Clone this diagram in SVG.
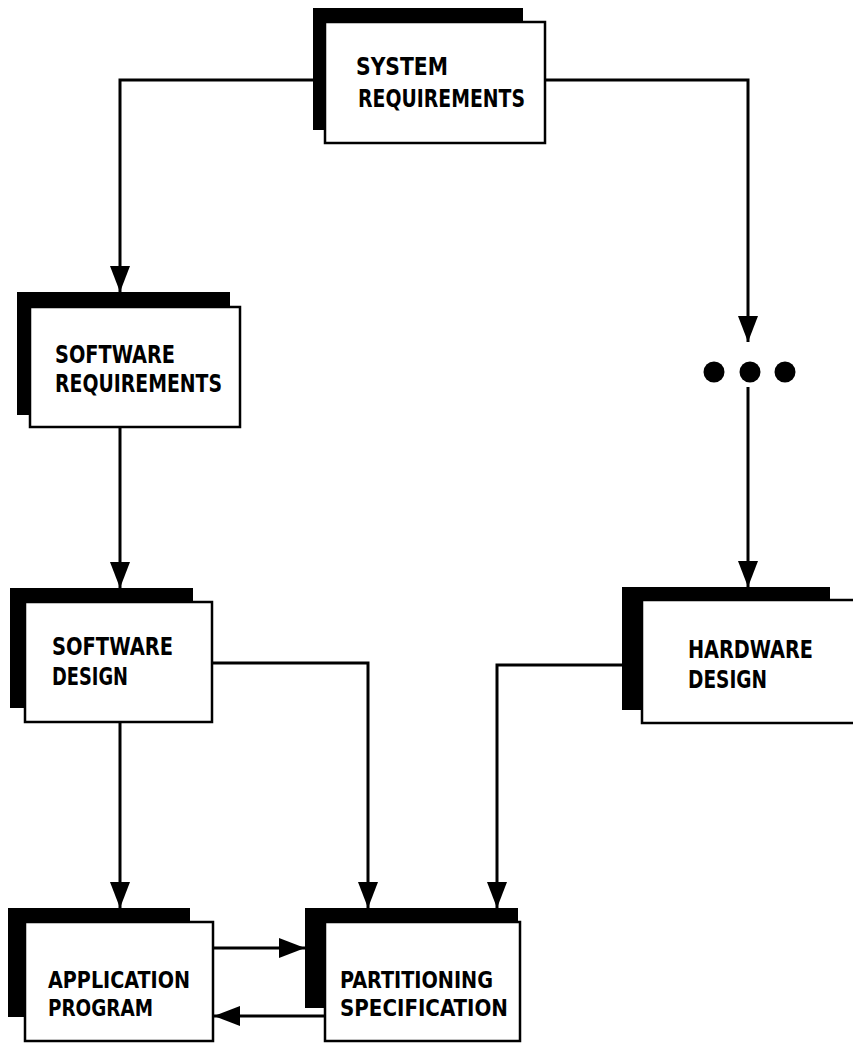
<svg xmlns="http://www.w3.org/2000/svg" width="853" height="1043" viewBox="0 0 853 1043">
  <style>
    .shadow { fill: #000; }
    .box { fill: #fff; stroke: #000; stroke-width: 2.5; }
    .label { font-family: "DejaVu Sans Condensed", "DejaVu Sans", sans-serif; font-size: 25px; font-weight: bold; fill: #000; }
    .tight { font-size: 23px; }
    .wire { fill: none; stroke: #000; stroke-width: 3; }
    .dot { fill: #000; }
  </style>
  <defs>
    <marker id="head" markerUnits="userSpaceOnUse" markerWidth="28" markerHeight="22" refX="26" refY="10" orient="auto">
      <path d="M0,0 L26,10 L0,20 Z" fill="#000"/>
    </marker>
  </defs>

  <rect width="853" height="1043" fill="#fff"/>

  <!-- connectors -->
  <g id="connectors">
    <path class="wire" d="M313,80 H120 V292" marker-end="url(#head)"/>
    <path class="wire" d="M545,80 H748 V342" marker-end="url(#head)"/>
    <path class="wire" d="M748,387 V587" marker-end="url(#head)"/>
    <path class="wire" d="M120,427 V588" marker-end="url(#head)"/>
    <path class="wire" d="M120,722 V908" marker-end="url(#head)"/>
    <path class="wire" d="M212,663 H368 V908" marker-end="url(#head)"/>
    <path class="wire" d="M622,665 H497 V908" marker-end="url(#head)"/>
    <path class="wire" d="M213,948 H305" marker-end="url(#head)"/>
    <path class="wire" d="M325,1016 H214" marker-end="url(#head)"/>
  </g>

  <!-- continuation marks -->
  <g id="ellipsis">
    <circle class="dot" cx="714" cy="372" r="10.5"/>
    <circle class="dot" cx="750" cy="372" r="10.5"/>
    <circle class="dot" cx="785" cy="372" r="10.5"/>
  </g>

  <g id="system-requirements">
    <rect class="shadow" x="313" y="8" width="210" height="122"/>
    <rect class="box" x="325" y="22" width="220" height="121"/>
    <text class="label" x="356" y="75" textLength="92" lengthAdjust="spacingAndGlyphs">SYSTEM</text>
    <text class="label" x="358" y="107" textLength="167" lengthAdjust="spacingAndGlyphs">REQUIREMENTS</text>
  </g>

  <g id="software-requirements">
    <rect class="shadow" x="17" y="292" width="213" height="123"/>
    <rect class="box" x="30" y="307" width="210" height="120"/>
    <text class="label" x="55" y="363" textLength="120" lengthAdjust="spacingAndGlyphs">SOFTWARE</text>
    <text class="label" x="55" y="392" textLength="167" lengthAdjust="spacingAndGlyphs">REQUIREMENTS</text>
  </g>

  <g id="software-design">
    <rect class="shadow" x="10" y="588" width="183" height="120"/>
    <rect class="box" x="25" y="602" width="187" height="120"/>
    <text class="label" x="52" y="655" textLength="121" lengthAdjust="spacingAndGlyphs">SOFTWARE</text>
    <text class="label" x="52" y="685" textLength="76" lengthAdjust="spacingAndGlyphs">DESIGN</text>
  </g>

  <g id="hardware-design">
    <rect class="shadow" x="622" y="587" width="208" height="123"/>
    <rect class="box" x="642" y="600" width="220" height="123"/>
    <text class="label" x="688" y="658" textLength="125" lengthAdjust="spacingAndGlyphs">HARDWARE</text>
    <text class="label" x="688" y="688" textLength="79" lengthAdjust="spacingAndGlyphs">DESIGN</text>
  </g>

  <g id="application-program">
    <rect class="shadow" x="8" y="908" width="182" height="109"/>
    <rect class="box" x="25" y="922" width="188" height="119"/>
    <text class="label tight" x="48" y="988" textLength="142" lengthAdjust="spacingAndGlyphs">APPLICATION</text>
    <text class="label tight" x="48" y="1016" textLength="105" lengthAdjust="spacingAndGlyphs">PROGRAM</text>
  </g>

  <g id="partitioning-specification">
    <rect class="shadow" x="305" y="908" width="213" height="100"/>
    <rect class="box" x="325" y="922" width="195" height="119"/>
    <text class="label tight" x="340" y="988" textLength="153" lengthAdjust="spacingAndGlyphs">PARTITIONING</text>
    <text class="label tight" x="340" y="1016" textLength="168" lengthAdjust="spacingAndGlyphs">SPECIFICATION</text>
  </g>
</svg>
